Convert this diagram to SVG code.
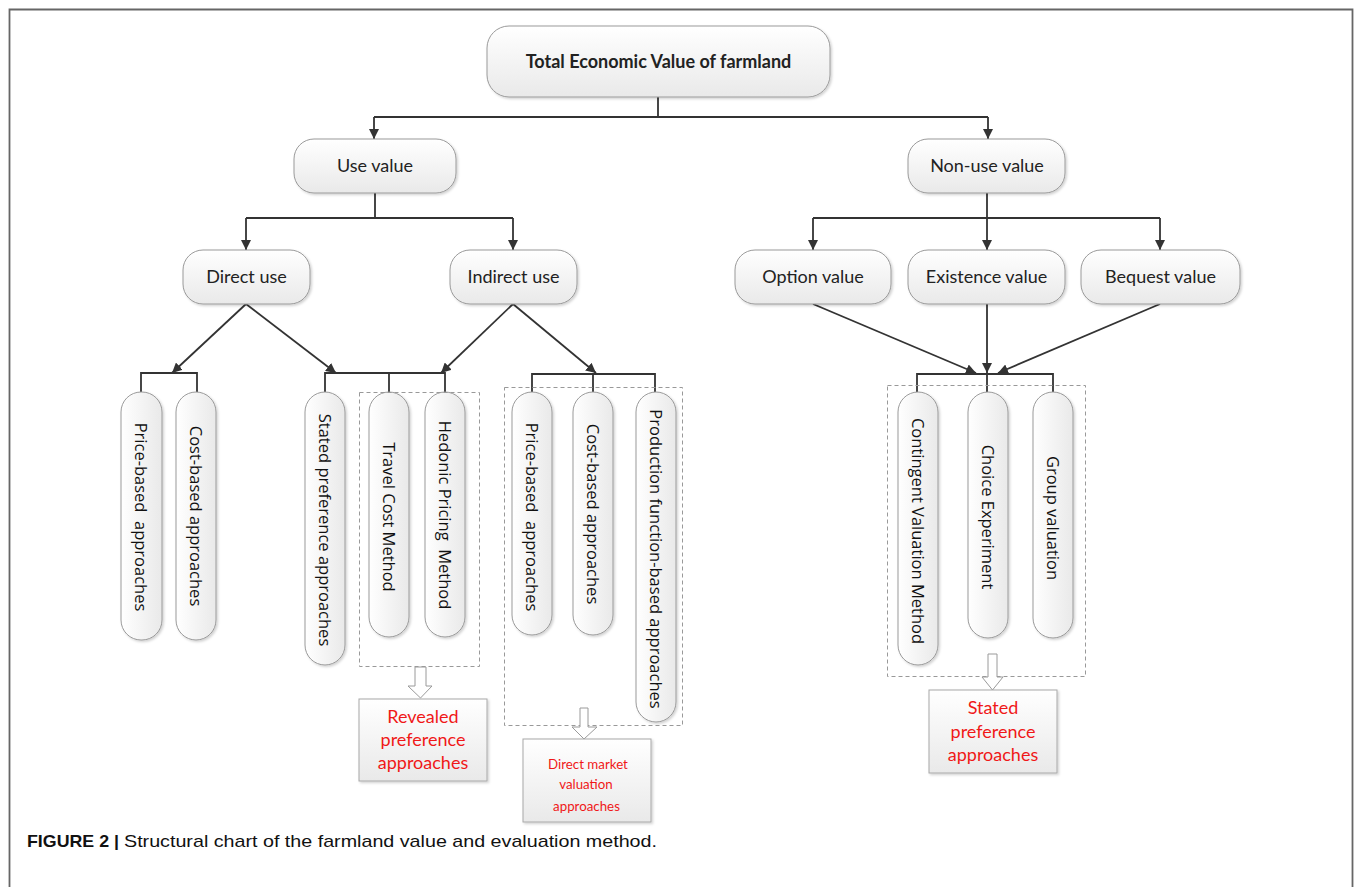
<svg xmlns="http://www.w3.org/2000/svg" width="1355" height="887" viewBox="0 0 1355 887">
<defs>
<linearGradient id="g" x1="0" y1="0" x2="0" y2="1">
<stop offset="0" stop-color="#ffffff"/><stop offset="1" stop-color="#e9e9e9"/>
</linearGradient>
<linearGradient id="gh" x1="0" y1="0" x2="1" y2="0">
<stop offset="0" stop-color="#ffffff"/><stop offset="1" stop-color="#e9e9e9"/>
</linearGradient>
<filter id="sh" x="-20%" y="-20%" width="140%" height="140%">
<feDropShadow dx="1.5" dy="1.5" stdDeviation="1.2" flood-color="#000" flood-opacity="0.18"/>
</filter>
<marker id="ah" viewBox="0 0 10 10" refX="10" refY="5" markerWidth="10" markerHeight="10" markerUnits="userSpaceOnUse" orient="auto">
<path d="M0,0 L10,5 L0,10 z" fill="#333"/>
</marker>
<style>
.node{fill:url(#g);stroke:#9a9a9a;stroke-width:1;filter:url(#sh)}
.pill{fill:url(#gh);stroke:#9a9a9a;stroke-width:1;filter:url(#sh)}
.res{fill:url(#g);stroke:#a8a8a8;stroke-width:1;filter:url(#sh)}
.lbl{font-family:Lato,"Liberation Sans",sans-serif;font-size:18px;fill:#222;text-anchor:middle}
.vt{font-family:"Open Sans","Noto Sans",sans-serif;font-size:16.5px;fill:#111;text-anchor:middle;dominant-baseline:central}
.red{font-family:Lato,"Liberation Sans",sans-serif;font-size:18px;fill:#f01818;text-anchor:middle}
.red.sm{font-size:13.3px}
.conn{fill:none;stroke:#333;stroke-width:1.8}
.dash{fill:none;stroke:#999;stroke-width:1;stroke-dasharray:4 3}
.hollow{fill:#fff;stroke:#9a9a9a;stroke-width:1}
</style>
</defs>
<rect width="1355" height="887" fill="#fff"/>
<path d="M9.5,887 V9.5 H1352.5 V887" fill="none" stroke="#666" stroke-width="1.8"/>

<g id="connectors">
<path class="conn" d="M658,97 V117 M374,117 H988"/>
<path class="conn" d="M374,117 V139" marker-end="url(#ah)"/>
<path class="conn" d="M988,117 V139" marker-end="url(#ah)"/>
<path class="conn" d="M375,193 V218 M246,218 H513"/>
<path class="conn" d="M246,218 V250" marker-end="url(#ah)"/>
<path class="conn" d="M513,218 V250" marker-end="url(#ah)"/>
<path class="conn" d="M987,193 V218 M813,218 H1160"/>
<path class="conn" d="M813,218 V250" marker-end="url(#ah)"/>
<path class="conn" d="M987,218 V250" marker-end="url(#ah)"/>
<path class="conn" d="M1160,218 V250" marker-end="url(#ah)"/>
<path class="conn" d="M246,304 L172,373" marker-end="url(#ah)"/>
<path class="conn" d="M246,304 L336,373" marker-end="url(#ah)"/>
<path class="conn" d="M513,304 L441,373" marker-end="url(#ah)"/>
<path class="conn" d="M513,304 L596,373" marker-end="url(#ah)"/>
<path class="conn" d="M813,304 L976,373" marker-end="url(#ah)"/>
<path class="conn" d="M987,304 V373" marker-end="url(#ah)"/>
<path class="conn" d="M1160,304 L998,373" marker-end="url(#ah)"/>
<path class="conn" d="M141,392 V373 H197 V392"/>
<path class="conn" d="M325,392 V373 H445 V392 M389,373 V392"/>
<path class="conn" d="M532,392 V374 H655 V392 M593,374 V392"/>
<path class="conn" d="M917,392 V374 H1053 V392 M987,374 V392"/>
</g>

<g id="n-total"><rect class="node" x="487" y="26" width="343" height="71" rx="22"/>
<text class="lbl" x="658.5" y="68" font-weight="bold">Total Economic Value of farmland</text></g>
<g id="n-use"><rect class="node" x="294" y="139" width="162" height="54" rx="20"/>
<text class="lbl" x="375" y="172">Use value</text></g>
<g id="n-nonuse"><rect class="node" x="908" y="139" width="157" height="54" rx="20"/>
<text class="lbl" x="987" y="172">Non-use value</text></g>
<g id="n-direct"><rect class="node" x="183" y="250" width="127" height="54" rx="20"/>
<text class="lbl" x="246.5" y="283">Direct use</text></g>
<g id="n-indirect"><rect class="node" x="450" y="250" width="127" height="54" rx="20"/>
<text class="lbl" x="513.5" y="283">Indirect use</text></g>
<g id="n-option"><rect class="node" x="735" y="250" width="156" height="54" rx="20"/>
<text class="lbl" x="813" y="283">Option value</text></g>
<g id="n-existence"><rect class="node" x="908" y="250" width="157" height="54" rx="20"/>
<text class="lbl" x="986.5" y="283">Existence value</text></g>
<g id="n-bequest"><rect class="node" x="1081" y="250" width="159" height="54" rx="20"/>
<text class="lbl" x="1160.5" y="283">Bequest value</text></g>

<g id="p-price1"><rect class="pill" x="121" y="392" width="41" height="248" rx="20"/>
<text class="vt" transform="translate(141.5,517) rotate(90)" xml:space="preserve">Price-based  approaches</text></g>
<g id="p-cost1"><rect class="pill" x="176" y="392" width="40" height="248" rx="20"/>
<text class="vt" transform="translate(196,516) rotate(90)">Cost-based approaches</text></g>
<g id="p-stated"><rect class="pill" x="305" y="392" width="40" height="273" rx="20"/>
<text class="vt" transform="translate(325,530) rotate(90)">Stated preference approaches</text></g>
<g id="p-travel"><rect class="pill" x="369" y="392" width="40" height="245" rx="20"/>
<text class="vt" transform="translate(389,517) rotate(90)">Travel Cost Method</text></g>
<g id="p-hedonic"><rect class="pill" x="425" y="392" width="40" height="245" rx="20"/>
<text class="vt" transform="translate(445,515) rotate(90)" xml:space="preserve">Hedonic Pricing  Method</text></g>
<g id="p-price2"><rect class="pill" x="512" y="392" width="40" height="243" rx="20"/>
<text class="vt" transform="translate(532,517) rotate(90)" xml:space="preserve">Price-based  approaches</text></g>
<g id="p-cost2"><rect class="pill" x="573" y="392" width="40" height="243" rx="20"/>
<text class="vt" transform="translate(593,514) rotate(90)">Cost-based approaches</text></g>
<g id="p-production"><rect class="pill" x="636" y="392" width="40" height="330" rx="20"/>
<text class="vt" transform="translate(656,559) rotate(90)">Production function-based approaches</text></g>
<g id="p-contingent"><rect class="pill" x="898" y="392" width="40" height="273" rx="20"/>
<text class="vt" transform="translate(918,531) rotate(90)">Contingent Valuation Method</text></g>
<g id="p-choice"><rect class="pill" x="968" y="392" width="40" height="246" rx="20"/>
<text class="vt" transform="translate(988,517) rotate(90)">Choice Experiment</text></g>
<g id="p-group"><rect class="pill" x="1033" y="392" width="40" height="246" rx="20"/>
<text class="vt" transform="translate(1053,518) rotate(90)">Group valuation</text></g>

<g id="grp-revealed">
<rect class="dash" x="359.5" y="392.5" width="120" height="274"/>
<path class="hollow" d="M415,667 H426 V686 H432 L420.5,698 L408,686 H415 Z"/>
<rect class="res" x="359" y="699" width="128" height="82"/>
<text class="red" x="423" y="723">Revealed</text>
<text class="red" x="423" y="746">preference</text>
<text class="red" x="423" y="769">approaches</text>
</g>
<g id="grp-direct-market">
<rect class="dash" x="504.5" y="387.5" width="178" height="338"/>
<path class="hollow" d="M580,708 H588 V727 H597 L584,739 L572,727 H580 Z"/>
<rect class="res" x="523" y="739" width="128" height="83"/>
<text class="red sm" x="588" y="769">Direct market</text>
<text class="red sm" x="586" y="789">valuation</text>
<text class="red sm" x="586.5" y="811">approaches</text>
</g>
<g id="grp-stated">
<rect class="dash" x="887.5" y="385.5" width="198" height="291"/>
<path class="hollow" d="M988,654 H997 V677 H1003 L992.5,690 L982,677 H988 Z"/>
<rect class="res" x="929" y="690" width="128" height="83"/>
<text class="red" x="993" y="714">Stated</text>
<text class="red" x="993" y="738">preference</text>
<text class="red" x="993" y="761">approaches</text>
</g>

<g id="caption" font-family="'Liberation Sans',Arial,sans-serif" font-size="17" fill="#111">
<text x="27" y="847" font-weight="bold" textLength="92" lengthAdjust="spacingAndGlyphs">FIGURE 2 |</text>
<text x="124" y="847" textLength="533" lengthAdjust="spacingAndGlyphs">Structural chart of the farmland value and evaluation method.</text>
</g>
</svg>
